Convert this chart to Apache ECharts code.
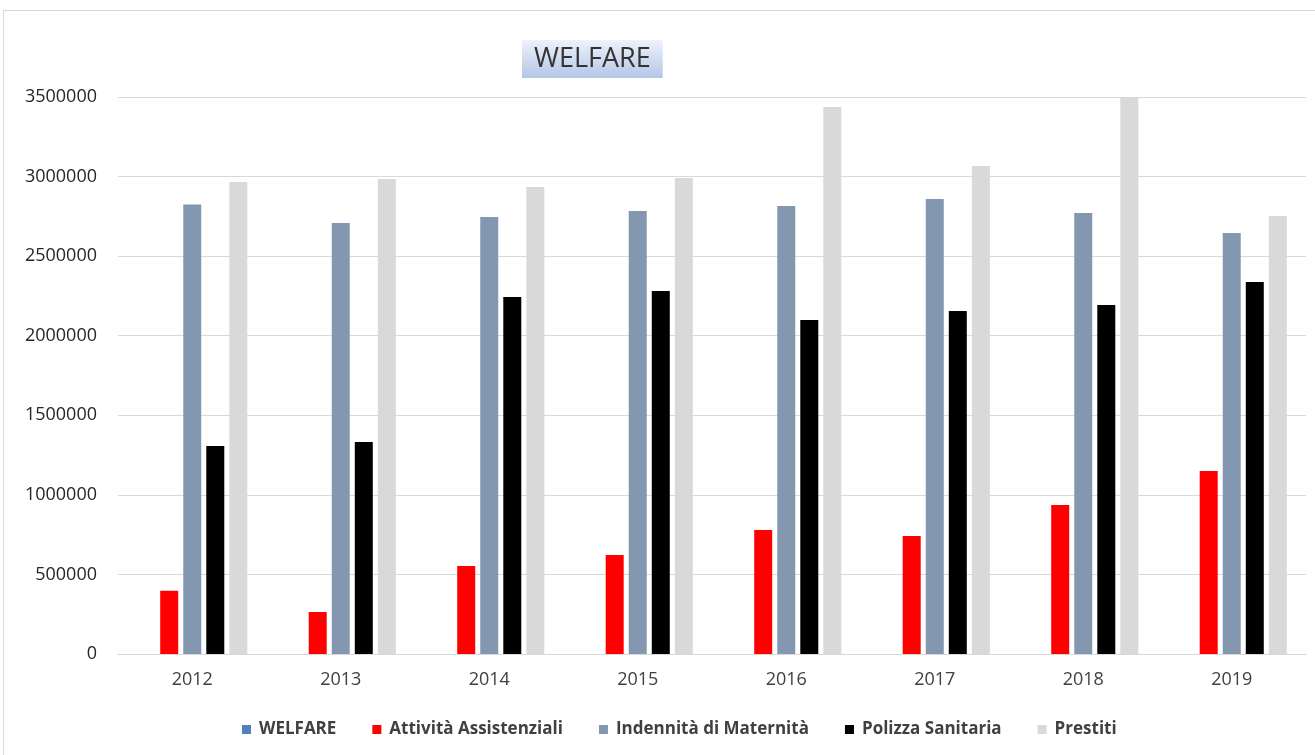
<!DOCTYPE html>
<html>
<head>
<meta charset="utf-8">
<script src="https://cdn.jsdelivr.net/npm/echarts@6/dist/echarts.min.js"></script>
<style>
  html, body { margin: 0; padding: 0; background: #fff; overflow: hidden; }
  #frame { position: absolute; left: 3px; top: 10px; width: 1330px; height: 760px; border: 1px solid #d9d9d9; }
  #main { position: absolute; left: 0; top: 0; width: 1315px; height: 755px; }
</style>
</head>
<body>
<div id="frame"></div>
<div id="main"></div>
<script>
var years = ['2012', '2013', '2014', '2015', '2016', '2017', '2018', '2019'];
var welfare = [null, null, null, null, null, null, null, null];
var attivita = [398000, 264000, 553000, 622000, 779000, 741000, 936000, 1150000];
var maternita = [2825000, 2708000, 2746000, 2784000, 2815000, 2859000, 2771000, 2645000];
var polizza = [1307000, 1332000, 2243000, 2281000, 2099000, 2155000, 2193000, 2338000];
var prestiti = [2966000, 2985000, 2934000, 2991000, 3437000, 3066000, 3560000, 2752000];
var yTicks = [0, 500000, 1000000, 1500000, 2000000, 2500000, 3000000, 3500000];

var chart = echarts.init(document.getElementById('main'));

function bar(name, color, data) {
    return {
        name: name,
        type: 'bar',
        barWidth: 18,
        barGap: '28%',
        clip: true,
        itemStyle: { color: color },
        data: data
    };
}

var option = {
    animation: false,
    title: {
        text: 'WELFARE',
        left: 522,
        top: 40,
        padding: [6, 12, 5, 12],
        backgroundColor: new echarts.graphic.LinearGradient(0, 0, 0, 1, [
            { offset: 0, color: '#eef2fa' },
            { offset: 1, color: '#b3c6e7' }
        ]),
        textStyle: {
            fontFamily: 'Open Sans',
            fontWeight: 'normal',
            fontSize: 27,
            lineHeight: 27,
            color: '#333333'
        }
    },
    legend: {
        left: 237,
        bottom: 12,
        itemWidth: 9,
        itemHeight: 9,
        itemGap: 36,
        icon: 'rect',
        textStyle: {
            fontFamily: 'Open Sans',
            fontWeight: 'bold',
            fontSize: 17,
            color: '#404040',
            padding: [0, 0, 0, 3]
        },
        data: ['WELFARE', 'Attività Assistenziali', 'Indennità di Maternità', 'Polizza Sanitaria', 'Prestiti']
    },
    grid: { left: 118, right: 9, top: 97, bottom: 101 },
    xAxis: {
        type: 'category',
        data: years,
        axisTick: { show: false },
        axisLine: { lineStyle: { color: '#d9d9d9', width: 1 } },
        axisLabel: { fontFamily: 'Open Sans', fontSize: 18, color: '#404040', margin: 17 }
    },
    yAxis: {
        type: 'value',
        min: yTicks[0],
        max: yTicks[yTicks.length - 1],
        interval: 500000,
        axisLine: { show: false },
        axisTick: { show: false },
        splitLine: { lineStyle: { color: '#d9d9d9', width: 1 } },
        axisLabel: {
            fontFamily: 'Open Sans', fontSize: 18, color: '#262626', margin: 21,
            formatter: function (v) { return String(v); }
        }
    },
    series: [
        bar('WELFARE', '#4f81bd', welfare),
        bar('Attività Assistenziali', '#ff0000', attivita),
        bar('Indennità di Maternità', '#8497b0', maternita),
        bar('Polizza Sanitaria', '#000000', polizza),
        bar('Prestiti', '#d9d9d9', prestiti)
    ]
};
chart.setOption(option);
</script>
</body>
</html>
